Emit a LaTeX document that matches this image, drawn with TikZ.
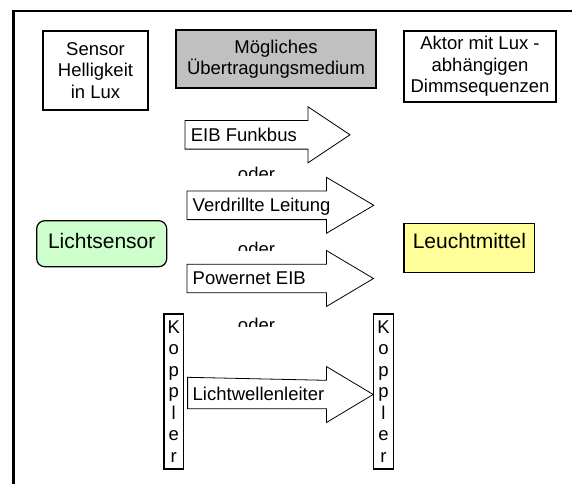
\documentclass[tikz,border=0pt]{standalone}
\usepackage{fontspec}
\setmainfont{Liberation Sans}
\usetikzlibrary{calc}
\definecolor{grayfill}{HTML}{C0C0C0}
\definecolor{greenfill}{HTML}{CCFFCC}
\definecolor{yellowfill}{HTML}{FFFF99}
\newcommand\blockarr[7]{%
  \draw[arrowline] (#2,{#5-#6}) -- (#3,{#5-#6}) -- (#3,{#5-#7}) -- (#4,#5)
    -- (#3,{#5+#7}) -- (#3,{#5+#6}) -- (#2,{#5+#6}) -- cycle;
  \node[anchor=base west] (#1) at ({#2+5.5},{#5+6.3}) {#1text};}
\begin{document}
\begin{tikzpicture}[x=1pt,y=-1pt,
  every node/.style={font=\fontsize{18.5}{21.5}\selectfont, inner sep=0pt},
  box/.style={draw, line width=1.2pt, align=center},
  bigbox/.style={draw, line width=1.2pt, font=\fontsize{21}{24}\selectfont},
  arrowline/.style={draw, fill=white, line width=0.8pt, line join=miter},
  koppler/.style={draw, line width=1.2pt, align=center, minimum width=19.4pt, minimum height=155pt, font=\fontsize{18.5}{21.5}\selectfont}]
\useasboundingbox (0,0) rectangle (572,483);
\clip (0,0) rectangle (572,483);
\fill[white] (0,0) rectangle (572,483);
% frame (only top and left visible)
\draw[line width=2.8pt] (13.5,520) -- (13.5,11) -- (620,11);
% header boxes
\node[box, minimum width=105pt, minimum height=79pt] (sensor) at (95.5,70.5) {Sensor\\Helligkeit\\in Lux};
\node[box, fill=grayfill, minimum width=200pt, minimum height=58pt] (medium) at (276,59) {Mögliches\\Übertragungsmedium};
\node[box, minimum width=152pt, minimum height=71pt] (aktor) at (480,66.5) {Aktor mit Lux -\\abhängigen\\Dimmsequenzen};
% side boxes
\node[bigbox, fill=greenfill, rounded corners=8pt, minimum width=130pt, text height=27.3pt, text depth=18.7pt] (licht) at (101.7,243.7) {Lichtsensor};
\node[bigbox, fill=yellowfill, minimum width=130.7pt, text height=24.7pt, text depth=24.3pt] (leucht) at (469.4,247.8) {Leuchtmittel};
% block arrows
\def\funktext{EIB Funkbus}
\draw[arrowline] (185,120.5) -- (308,120.5) -- (308,106.8) -- (350,134.8) -- (308,162.8) -- (308,149.1) -- (185,149.1) -- cycle;
\node[anchor=base west] (funk) at (190.7,141.1) {EIB Funkbus};
\draw[arrowline] (187,191) -- (326.4,191) -- (326.4,177.3) -- (373.8,205.3) -- (326.4,233.3) -- (326.4,219.6) -- (187,219.6) -- cycle;
\node[anchor=base west] (verdr) at (192.5,211.6) {Verdrillte Leitung};
\draw[arrowline] (187,264.2) -- (326.4,264.2) -- (326.4,250.5) -- (373.5,278.5) -- (326.4,306.5) -- (326.4,292.8) -- (187,292.8) -- cycle;
\node[anchor=base west] (power) at (192.5,284.8) {Powernet EIB};
% oder labels (clipped at bottom)
\begin{scope}
\clip (200,150) rectangle (320,175.5);
\node[anchor=base] (oder1) at (256.5,180) {oder};
\end{scope}
\begin{scope}
\clip (200,230) rectangle (320,250);
\node[anchor=base] (oder2) at (256.5,255) {oder};
\end{scope}
\begin{scope}
\clip (200,305) rectangle (320,326.7);
\node[anchor=base] (oder3) at (256.5,331.5) {oder};
\end{scope}
% Koppler
\node[koppler] (kl) at (173.7,391.5) {K\\o\\p\\p\\l\\e\\r};
\node[koppler] (kr) at (383.5,391.5) {K\\o\\p\\p\\l\\e\\r};
\draw[arrowline] ($(kl.east)+(3.6,-14.2)$) -- (326.4,380.3) -- (326.4,366.5) -- (kr.west |- 0,394.5) -- (326.4,422.5) -- (326.4,408.7) -- ($(kl.east)+(3.6,17.2)$) -- cycle;
\node[anchor=base west] (lwl) at (192.5,400.8) {Lichtwellenleiter};
\end{tikzpicture}
\end{document}
